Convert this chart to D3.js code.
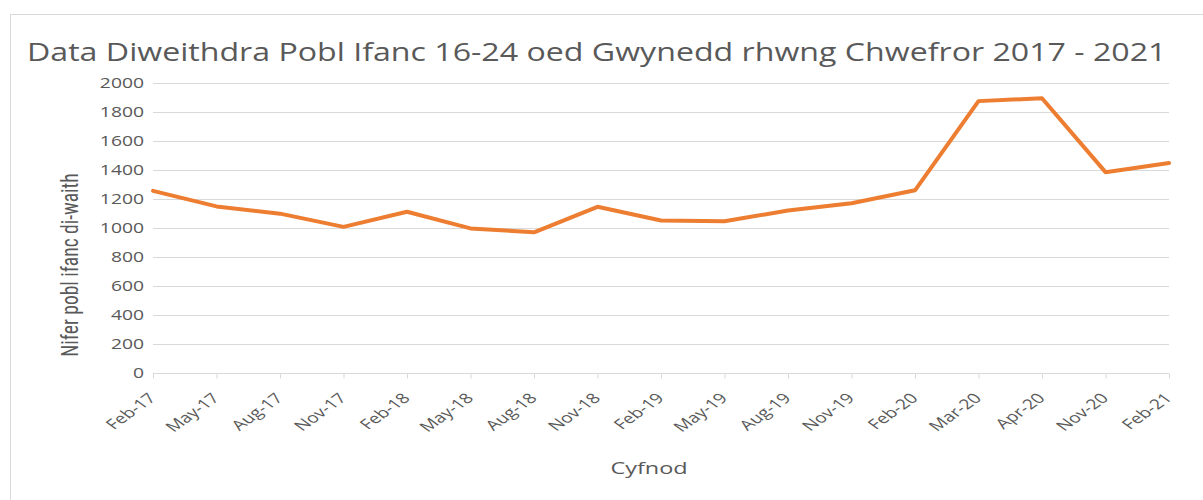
<!DOCTYPE html>
<html><head><meta charset="utf-8">
<script src="https://cdn.jsdelivr.net/npm/d3@7"></script>
<style>
body{margin:0;background:#fff;}
text{font-family:"Open Sans",sans-serif;fill:#595959;}
</style></head>
<body><svg id="c" width="1203" height="500"></svg>
<script>
const categories = ["Feb-17","May-17","Aug-17","Nov-17","Feb-18","May-18","Aug-18","Nov-18","Feb-19","May-19","Aug-19","Nov-19","Feb-20","Mar-20","Apr-20","Nov-20","Feb-21"];
const values = [1256,1149,1099,1008,1112,997,970,1146,1052,1046,1121,1171,1260,1875,1895,1385,1448];
const yTicks = [0,200,400,600,800,1000,1200,1400,1600,1800,2000];
const titleText = "Data Diweithdra Pobl Ifanc 16-24 oed Gwynedd rhwng Chwefror 2017 - 2021";
const yTitleText = "Nifer pobl ifanc di-waith";
const xTitleText = "Cyfnod";

const SX = 1.38; // horizontal stretch of the original image
const svg = d3.select("#c");
const m = {left:153, right:1169, top:83, bottom:373};

svg.append("rect").attr("x",10.5).attr("y",14.5).attr("width",1220).attr("height",520)
  .attr("fill","#fff").attr("stroke","#d9d9d9");

const x = d3.scalePoint().domain(categories).range([m.left,m.right]).padding(0);
const y = d3.scaleLinear().domain([0,2000]).range([m.bottom,m.top]);

// gridlines
svg.append("g").selectAll("line").data(yTicks.filter(d=>d>0)).join("line")
  .attr("x1",m.left).attr("x2",m.right)
  .attr("y1",d=>Math.round(y(d))+0.5).attr("y2",d=>Math.round(y(d))+0.5)
  .attr("stroke","#d9d9d9").attr("stroke-width",1);

// y labels
svg.append("g").selectAll("text").data(yTicks).join("text")
  .attr("transform",d=>`translate(144,${y(d)+5}) scale(${SX},1)`)
  .attr("text-anchor","end").attr("font-size",14).text(d=>d);

// x axis
const xAxis = d3.axisBottom(x).tickSize(5).tickFormat("");
const gx = svg.append("g").attr("transform",`translate(0,${Math.round(m.bottom)+0.5})`).call(xAxis);
gx.select(".domain").attr("stroke","#d9d9d9").attr("d",`M${m.left},0H${m.right}`);
gx.selectAll(".tick line").attr("stroke","#d9d9d9");

svg.append("g").selectAll("text").data(categories).join("text")
  .attr("transform",d=>`translate(${x(d)+4},${m.bottom+26}) scale(${SX},1) rotate(-45)`)
  .attr("text-anchor","end").attr("font-size",14).text(d=>d);

// line
svg.append("path").datum(values)
  .attr("fill","none").attr("stroke","#ED7D31").attr("stroke-width",4)
  .attr("stroke-linejoin","round").attr("stroke-linecap","round")
  .attr("d",d3.line().x((d,i)=>x(categories[i])).y(d=>y(d)));

// titles
const t = svg.append("text").attr("font-size",25).text(titleText);
const tl = t.node().getComputedTextLength();
t.attr("transform",`translate(27,61) scale(${1140/tl},1)`);
svg.append("text").attr("transform",`translate(649,474) scale(${SX},1)`)
  .attr("text-anchor","middle").attr("font-size",17).text(xTitleText);
svg.append("text").attr("transform",`translate(78,265) scale(1.2,1) rotate(-90)`)
  .attr("text-anchor","middle").attr("font-size",19.5)
  .style("font-family","'Liberation Sans Narrow','Arial Narrow','Roboto Condensed',sans-serif")
  .text(yTitleText);
</script>
</body></html>
